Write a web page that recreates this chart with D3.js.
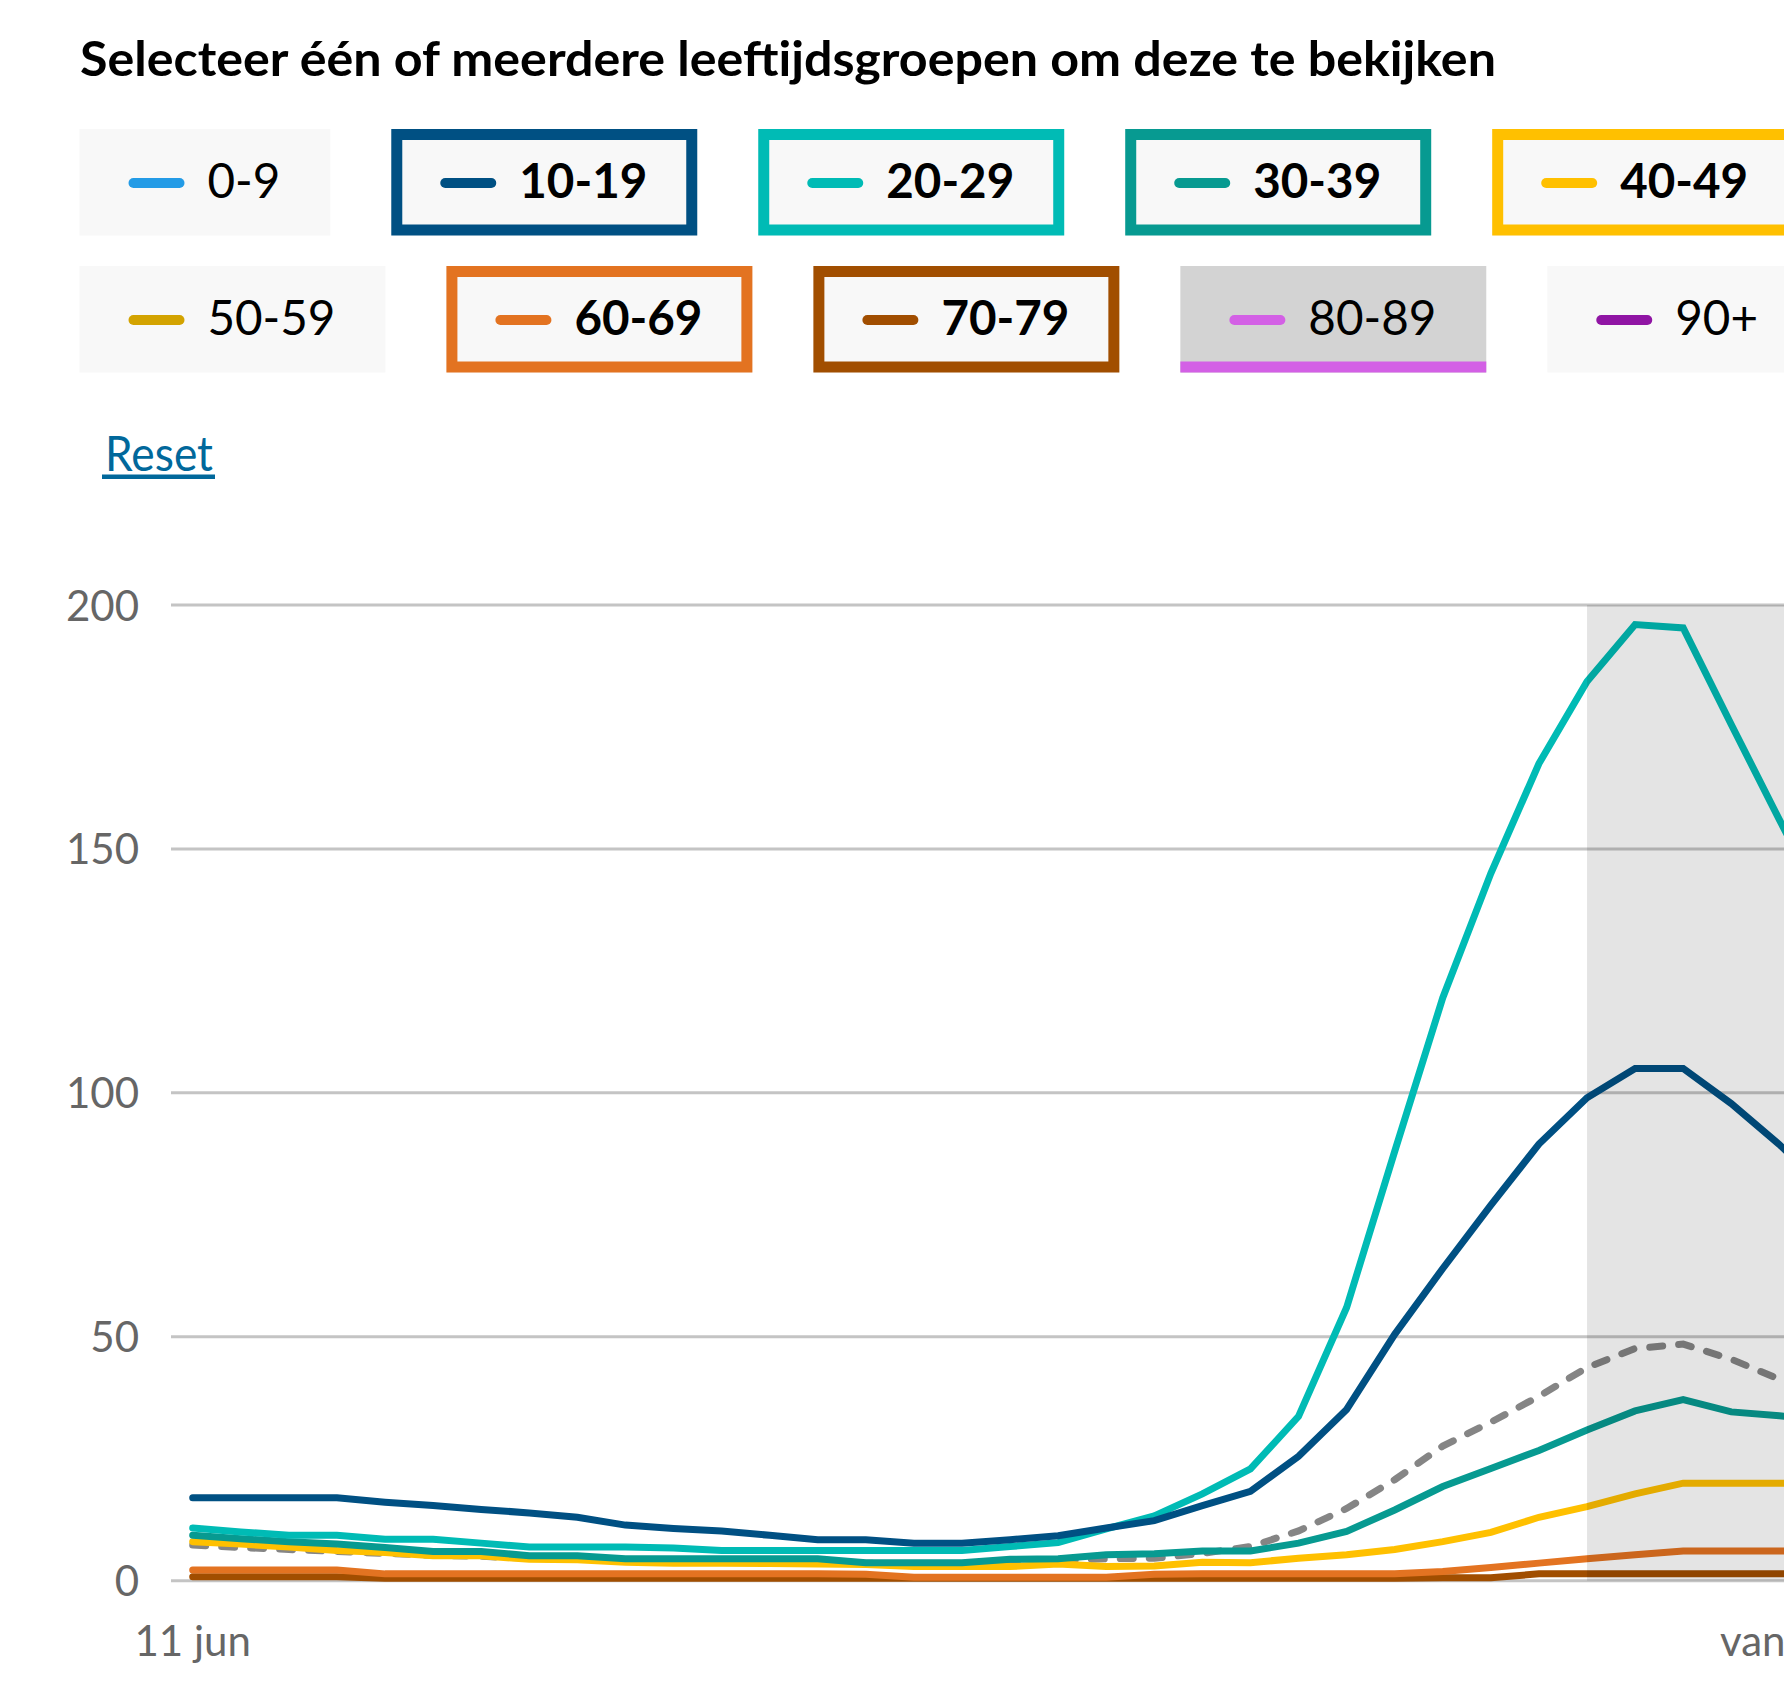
<!DOCTYPE html>
<html>
<head>
<meta charset="utf-8">
<script src="https://cdn.jsdelivr.net/npm/d3@7"></script>
<style>
html,body{margin:0;padding:0;background:#fff;overflow:hidden}
svg{display:block}
</style>
</head>
<body>
<svg id="chart" width="1784" height="1681"></svg>
<script>
// ---------- data ----------
const titleText = "Selecteer één of meerdere leeftijdsgroepen om deze te bekijken";
const resetText = "Reset";
const ageGroups = ["0-9","10-19","20-29","30-39","40-49","50-59","60-69","70-79","80-89","90+"];
const groupColors = ["#239be6","#005083","#00bbb5","#079a91","#ffc000","#d3a300","#e37321","#a14e00","#d360e5","#9015a4"];
const selectedGroups = ["10-19","20-29","30-39","40-49","60-69","70-79"];
const hoveredGroup = "80-89";

const dates = [
  "2021-06-11","2021-06-12","2021-06-13","2021-06-14","2021-06-15","2021-06-16","2021-06-17",
  "2021-06-18","2021-06-19","2021-06-20","2021-06-21","2021-06-22","2021-06-23","2021-06-24",
  "2021-06-25","2021-06-26","2021-06-27","2021-06-28","2021-06-29","2021-06-30","2021-07-01",
  "2021-07-02","2021-07-03","2021-07-04","2021-07-05","2021-07-06","2021-07-07","2021-07-08",
  "2021-07-09","2021-07-10","2021-07-11","2021-07-12","2021-07-13","2021-07-14","2021-07-15"
];
const values10_19 = [17,17,17,17,16.1,15.4,14.6,13.9,13.0,11.4,10.7,10.2,9.3,8.4,8.4,7.7,7.7,8.4,9.2,10.8,12.3,15.4,18.3,25.5,35.1,50.5,64,77,89.5,99,105,105,97.8,89.4,80];
const values20_29 = [10.8,10.0,9.3,9.3,8.5,8.5,7.7,6.9,6.9,6.9,6.7,6.2,6.2,6.2,6.2,6.2,6.2,7.0,7.8,10.6,13.3,17.8,22.9,33.7,56,88,119.5,145,167.5,184.3,196,195.3,175.5,156,137];
const values30_39 = [9.3,8.6,8.0,7.5,6.8,6.0,6.0,5.1,5.1,4.5,4.5,4.5,4.5,4.5,3.7,3.7,3.7,4.4,4.5,5.3,5.5,6.1,6.1,7.7,10.1,14.5,19.3,23.0,26.7,30.9,34.8,37.1,34.6,33.8,33];
const values40_49 = [8.0,7.5,6.9,6.2,5.8,5.1,5.1,4.4,4.3,3.8,3.6,3.6,3.5,3.4,3.3,2.9,2.9,2.9,3.4,2.9,3.0,3.8,3.7,4.6,5.3,6.4,8.0,9.9,13.0,15.2,17.8,20,20,20,20];
const values60_69 = [2.2,2.2,2.2,2.2,1.4,1.4,1.4,1.4,1.4,1.4,1.4,1.4,1.4,1.4,1.3,0.7,0.7,0.7,0.7,0.7,1.3,1.4,1.4,1.4,1.4,1.4,1.9,2.7,3.6,4.5,5.3,6.1,6.1,6.1,6.1];
const values70_79 = [0.8,0.8,0.8,0.8,0.5,0.5,0.5,0.5,0.5,0.5,0.5,0.5,0.5,0.5,0.5,0.5,0.5,0.5,0.5,0.5,0.5,0.5,0.5,0.5,0.5,0.5,0.6,0.6,1.4,1.4,1.4,1.4,1.4,1.4,1.4];
const averageValues = [7.3,6.8,6.4,6.0,5.6,5.2,5.0,4.6,4.4,4.1,3.9,3.8,3.7,3.7,3.6,3.4,3.4,3.7,4.2,4.5,4.6,5.6,7.0,10.2,14.8,20.7,27.6,32.5,37.8,43.7,47.6,48.5,45.4,41.3,37.5];
const yTicks = [0,50,100,150,200];
const firstDateLabel = "11 jun";
const lastDateLabel = "vandaag";
const shadeStartDate = "2021-07-10";

// series table built from the arrays above
const seriesTable = [
  {group:"10-19", values:values10_19},
  {group:"20-29", values:values20_29},
  {group:"30-39", values:values30_39},
  {group:"40-49", values:values40_49},
  {group:"60-69", values:values60_69},
  {group:"70-79", values:values70_79}
];

// ---------- drawing ----------
const FONT = "Lato, 'Noto Sans', 'DejaVu Sans', sans-serif";
const svg = d3.select("#chart");
const parse = d3.timeParse("%Y-%m-%d");
const colorOf = d3.scaleOrdinal().domain(ageGroups).range(groupColors);

// title
svg.append("text")
  .attr("x", 80).attr("y", 76)
  .attr("font-family", FONT).attr("font-weight", 700).attr("font-size", 48)
  .attr("fill", "#000")
  .attr("textLength", 1416).attr("lengthAdjust", "spacingAndGlyphs")
  .text(titleText);

// legend buttons
const legendRows = [ageGroups.slice(0,5), ageGroups.slice(5,10)];
const rowTop = [129, 266];
const boxH = 106.5;
legendRows.forEach((row, r) => {
  let bx = 79.5;
  row.forEach(name => {
    const sel = selectedGroups.includes(name);
    const hov = name === hoveredGroup;
    const col = colorOf(name);
    const g = svg.append("g").attr("transform", `translate(${bx},${rowTop[r]})`);
    const bg = g.append("rect");
    const label = g.append("text")
      .attr("x", 128).attr("y", 69)
      .attr("font-family", FONT).attr("font-size", 48)
      .attr("font-weight", sel ? 700 : 400)
      .attr("fill", "#000")
      .text(name);
    const w = label.node().getComputedTextLength() * 0.99;
    label.attr("textLength", w).attr("lengthAdjust", "spacingAndGlyphs");
    const bw = 128 + w + 50;
    bg.attr("width", bw).attr("height", boxH).attr("fill", hov ? "#d3d3d3" : "#f8f8f8");
    if (sel) {
      g.append("rect")
        .attr("x", 5.5).attr("y", 5.5).attr("width", bw - 11).attr("height", boxH - 11)
        .attr("fill", "none").attr("stroke", col).attr("stroke-width", 11);
    }
    if (hov) {
      g.append("rect").attr("x", 0).attr("y", boxH - 11).attr("width", bw).attr("height", 11).attr("fill", col);
    }
    g.append("line")
      .attr("x1", 54).attr("x2", 100).attr("y1", 54).attr("y2", 54)
      .attr("stroke", col).attr("stroke-width", 10).attr("stroke-linecap", "round");
    bx += bw + 61;
  });
});

// reset link
svg.append("text")
  .attr("x", 105).attr("y", 471)
  .attr("font-family", FONT).attr("font-size", 48).attr("fill", "#01689b")
  .attr("textLength", 108).attr("lengthAdjust", "spacingAndGlyphs")
  .text(resetText);
svg.append("rect").attr("x", 102).attr("y", 474.5).attr("width", 113).attr("height", 4.5).attr("fill", "#01689b");

// scales
const parsedDates = dates.map(parse);
const x = d3.scaleTime()
  .domain([parsedDates[0], parsedDates[parsedDates.length - 1]])
  .range([192.7, 192.7 + 48.08 * (parsedDates.length - 1)]);
const y = d3.scaleLinear().domain([0, 200]).range([1580.7, 605]);
const plotLeft = 171, plotRight = 1784;

// gridlines + y labels
const grid = svg.append("g");
grid.selectAll("line").data(yTicks).join("line")
  .attr("x1", plotLeft).attr("x2", plotRight)
  .attr("y1", d => y(d)).attr("y2", d => y(d))
  .attr("stroke", "#c4c4c4").attr("stroke-width", 3);
grid.selectAll("text").data(yTicks).join("text")
  .attr("x", 139).attr("y", d => y(d) + 15.5)
  .attr("text-anchor", "end")
  .attr("font-family", FONT).attr("font-size", 42).attr("fill", "#666")
  .text(d => d);

// x labels
svg.append("text")
  .attr("x", x(parsedDates[0])).attr("y", 1656)
  .attr("text-anchor", "middle")
  .attr("font-family", FONT).attr("font-size", 42).attr("fill", "#666")
  .text(firstDateLabel);
svg.append("text")
  .attr("x", 1720).attr("y", 1656)
  .attr("text-anchor", "start")
  .attr("font-family", FONT).attr("font-size", 42).attr("fill", "#666")
  .text(lastDateLabel);

// lines
const line = d3.line().x((d, i) => x(parsedDates[i])).y(d => y(d));
const linesG = svg.append("g");
linesG.append("path")
  .attr("d", line(averageValues))
  .attr("fill", "none").attr("stroke", "#858585").attr("stroke-width", 7)
  .attr("stroke-linecap", "round").attr("stroke-dasharray", "13 16");
seriesTable.slice().reverse().forEach(s => {
  linesG.append("path")
    .attr("d", line(s.values))
    .attr("fill", "none").attr("stroke", colorOf(s.group)).attr("stroke-width", 7)
    .attr("stroke-linecap", "round").attr("stroke-linejoin", "miter");
});

// shaded (incomplete data) region
svg.append("rect")
  .attr("x", x(parse(shadeStartDate))).attr("y", y(200))
  .attr("width", plotRight - x(parse(shadeStartDate)))
  .attr("height", y(0) - y(200))
  .attr("fill", "rgba(0,0,0,0.105)");
</script>
</body>
</html>
